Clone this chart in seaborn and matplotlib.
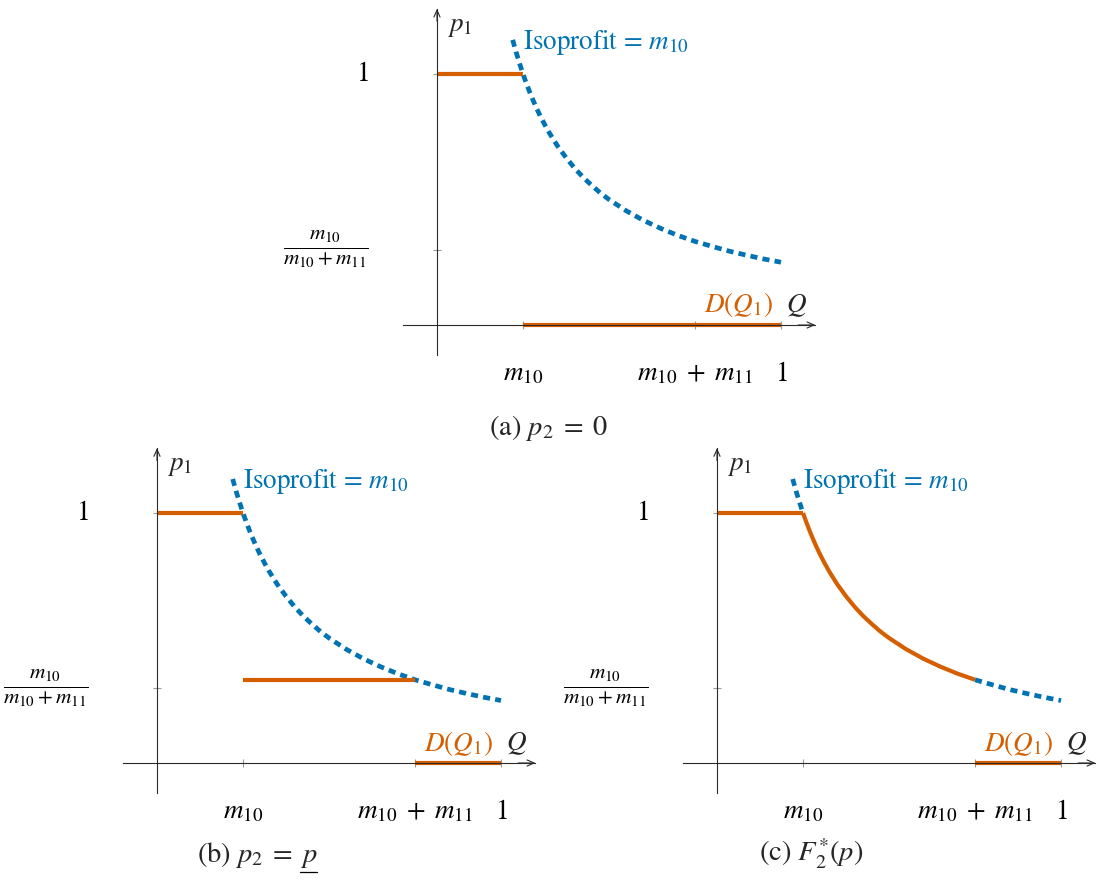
import matplotlib
matplotlib.use("Agg")
import matplotlib.pyplot as plt
from matplotlib.lines import Line2D
import seaborn as sns

# ---- model values -------------------------------------------------------
m10 = 0.25            # share of type-10 consumers
m10_m11 = 0.75        # m10 + m11
frac_level = 1 / 3    # m10 / (m10 + m11)
frac_tick = 0.30      # where the fraction tick sits on the p1 axis

# isoprofit curve p1 * Q = m10 (sampled points)
iso_q = [0.22, 0.23, 0.24, 0.25, 0.26, 0.27, 0.28, 0.29, 0.30, 0.3125,
         0.325, 0.3375, 0.35, 0.375, 0.40, 0.425, 0.45, 0.475, 0.50,
         0.55, 0.60, 0.65, 0.70, 0.75, 0.80, 0.85, 0.90, 0.95, 1.00]
iso_p = [1.136, 1.087, 1.042, 1.000, 0.962, 0.926, 0.893, 0.862, 0.833,
         0.800, 0.769, 0.741, 0.714, 0.667, 0.625, 0.588, 0.556, 0.526,
         0.500, 0.455, 0.417, 0.385, 0.357, 0.333, 0.313, 0.294, 0.278,
         0.263, 0.250]

# isoprofit pieces left visible in panel (c), outside the solid part
iso_c_upper = [(q, p) for q, p in zip(iso_q, iso_p) if q <= m10]
iso_c_lower = [(q, p) for q, p in zip(iso_q, iso_p) if q >= m10_m11]

# demand pieces for each panel: list of (Q values, p1 values)
demand_a = [([0.0, m10], [1.0, 1.0]),
            ([m10, 1.0], [0.0, 0.0])]
demand_b = [([0.0, m10], [1.0, 1.0]),
            ([m10, m10_m11], [frac_level, frac_level]),
            ([m10_m11, 1.0], [0.0, 0.0])]
curve_q = [q for q in iso_q if m10 <= q <= m10_m11]
curve_p = [p for q, p in zip(iso_q, iso_p) if m10 <= q <= m10_m11]
demand_c = [([0.0, m10], [1.0, 1.0]),
            (curve_q, curve_p),
            ([m10_m11, 1.0], [0.0, 0.0])]

full_iso = [(iso_q, iso_p)]
split_iso = [([q for q, _ in iso_c_upper], [p for _, p in iso_c_upper]),
             ([q for q, _ in iso_c_lower], [p for _, p in iso_c_lower])]

x_ticks = [m10, m10_m11, 1.0]
x_tick_labels = [r"$m_{10}$", r"$m_{10}\;+\;m_{11}$", r"$1$"]
y_ticks = [frac_tick, 1.0]
y_tick_labels = [r"$\frac{m_{10}}{m_{10}+m_{11}}$", r"$1$"]

captions = [r"(a) $p_2\;=\;0$", r"(b) $p_2\;=\;p$", r"(c) $F_2^{*}(p)$"]

# ---- style ---------------------------------------------------------------
sns.set_style("white")
plt.rcParams["font.family"] = ["STIXGeneral", "DejaVu Serif"]
plt.rcParams["mathtext.fontset"] = "stix"

BLUE = "#0173B2"
ORANGE = "#D55E00"
AXC = "#2b2b2b"
TICKC = "#9a9a9a"
FS = 19.5        # labels inside the panels
FS_TICK = 19.5
FS_FRAC = 22
FS_CAP = 20.5

W, H = 1099, 888
XLIM = (-0.1, 1.1)
YLIM = (-0.12, 1.26)

fig = plt.figure(figsize=(W / 100, H / 100), dpi=100)


def place(ox, oy, ux, uy):
    left = ox + XLIM[0] * ux
    right = ox + XLIM[1] * ux
    bot = oy - YLIM[0] * uy
    top = oy - YLIM[1] * uy
    return fig.add_axes([left / W, 1 - bot / H, (right - left) / W, (bot - top) / H])


def draw_panel(ax, iso_pieces, pieces):
    for qs, ps in iso_pieces:
        sns.lineplot(x=qs, y=ps, ax=ax, color=BLUE, linewidth=3.4,
                     linestyle=(0, (1.5, 1.1)), dash_capstyle="butt",
                     estimator=None, sort=False)
    for qs, ps in pieces:
        sns.lineplot(x=qs, y=ps, ax=ax, color=ORANGE, linewidth=3.0,
                     solid_capstyle="butt", solid_joinstyle="round",
                     estimator=None, sort=False)

    ax.set_xlim(*XLIM)
    ax.set_ylim(*YLIM)
    ax.set_xlabel("")
    ax.set_ylabel("")
    ax.set_facecolor("none")

    for side in ("top", "right"):
        ax.spines[side].set_visible(False)
    for side in ("left", "bottom"):
        ax.spines[side].set_position(("data", 0))
        ax.spines[side].set_color(AXC)
        ax.spines[side].set_linewidth(0.8)

    ax.set_xticks(x_ticks, x_tick_labels, fontsize=FS_TICK, va="baseline")
    ax.set_yticks(y_ticks, y_tick_labels, fontsize=FS_TICK, va="center")
    ax.get_yticklabels()[0].set_fontsize(FS_FRAC)
    ax.tick_params(axis="both", which="both", bottom=True, left=True,
                   direction="inout", length=6, width=0.8, color=TICKC,
                   labelcolor="black")
    ax.tick_params(axis="x", pad=37)
    ax.tick_params(axis="y", pad=46)

    arrow = dict(arrowstyle="->,head_length=0.5,head_width=0.22", color=AXC,
                 lw=0.8, shrinkA=0, shrinkB=0)
    ax.annotate("", xy=(XLIM[1], 0), xytext=(XLIM[1] - 0.05, 0),
                arrowprops=arrow, annotation_clip=False)
    ax.annotate("", xy=(0, YLIM[1]), xytext=(0, YLIM[1] - 0.05),
                arrowprops=arrow, annotation_clip=False)

    ax.text(0.03, 1.19, r"$p_1$", fontsize=FS, ha="left", va="center")
    ax.text(0.25, 1.10, r"Isoprofit = $m_{10}$", fontsize=FS, color=BLUE,
            ha="left", va="baseline")
    ax.text(0.975, 0.05, r"$D(Q_1)$", fontsize=FS, color=ORANGE,
            ha="right", va="baseline")
    ax.text(1.015, 0.05, r"$Q$", fontsize=FS, ha="left", va="baseline")


ax_a = place(437, 325, 344, 251)
ax_b = place(157, 763, 344, 250)
ax_c = place(717, 763, 344, 250)

draw_panel(ax_a, full_iso, demand_a)
draw_panel(ax_b, full_iso, demand_b)
draw_panel(ax_c, split_iso, demand_c)

fig.text(548 / W, 1 - 435 / H, captions[0], fontsize=FS_CAP, ha="center", va="baseline")
cap_b = fig.text(257 / W, 1 - 862 / H, captions[1], fontsize=FS_CAP, ha="center", va="baseline")
fig.text(811 / W, 1 - 862 / H, captions[2], fontsize=FS_CAP, ha="center", va="baseline")

# underline the last symbol of caption (b)
fig.canvas.draw()
renderer = fig.canvas.get_renderer()
bb = cap_b.get_window_extent(renderer)
probe = fig.text(0, 0, r"$p$", fontsize=FS_CAP)
pw = probe.get_window_extent(renderer).width
probe.remove()
yline = bb.y0 - 2
fig.add_artist(Line2D([bb.x1 - pw, bb.x1], [yline, yline], color="black",
                      linewidth=0.9, transform=None))

fig.savefig("out.png", dpi=100)
